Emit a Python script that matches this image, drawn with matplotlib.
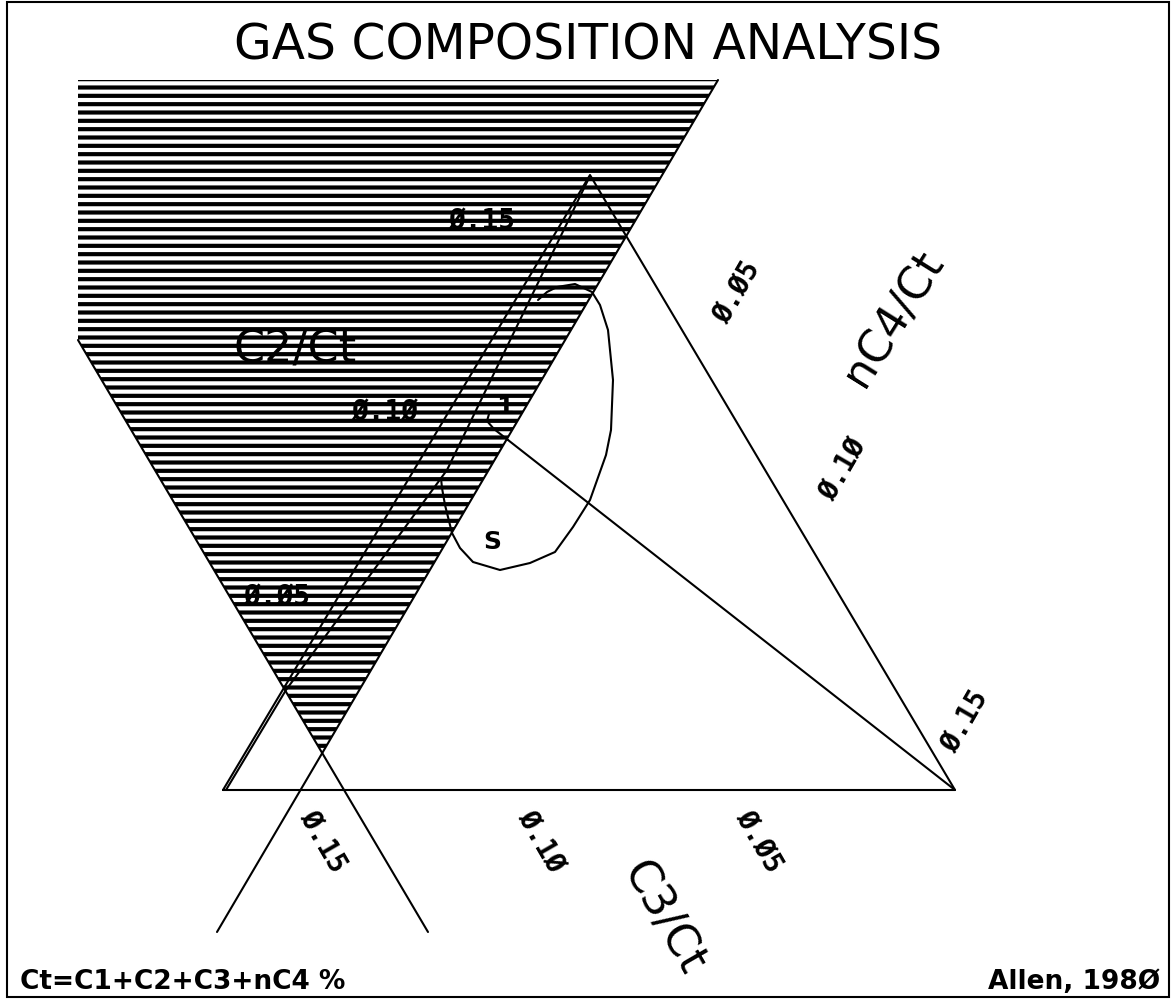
import matplotlib
matplotlib.use("Agg")
import matplotlib.pyplot as plt
from matplotlib.patches import Polygon, Rectangle

# ---------------- data (chart coordinates, y grows downward) ----------------
title = "GAS COMPOSITION ANALYSIS"

# hatched C2/Ct field
hatch_x = [78, 718, 322, 78]
hatch_y = [80, 80, 753, 340]

# crossing boundary lines of the C2/Ct field
vline_a_x = [718, 217]
vline_a_y = [80, 932]
vline_b_x = [78, 428]
vline_b_y = [340, 932]

# main triangle
tri_x = [223, 955, 590, 223]
tri_y = [790, 790, 175, 790]

# second boundary line
l2_x = [226, 286, 447, 588]
l2_y = [790, 690, 470, 180]

# closed field "S"
s_x = [538, 547, 557, 575, 592, 600, 608, 613, 611, 606, 590, 573, 555, 530,
       500, 473, 460, 452, 445, 442, 441]
s_y = [300, 292, 287, 284, 292, 305, 330, 380, 430, 455, 500, 527, 552, 563,
       570, 562, 548, 533, 505, 488, 478]

# small field "1" boundary and line to right vertex
arc_x = [489, 487, 494, 508]
arc_y = [414, 421, 429, 440]
ray_x = [508, 955]
ray_y = [440, 790]

# tick labels
c2_ticks = ["Ø.15", "Ø.1Ø", "Ø.Ø5"]
c2_tick_x = [482, 385, 277]
c2_tick_y = [222, 413, 598]

nc4_ticks = ["Ø.Ø5", "Ø.1Ø", "Ø.15"]
nc4_tick_x = [737, 843, 965]
nc4_tick_y = [293, 470, 722]

c3_ticks = ["Ø.15", "Ø.1Ø", "Ø.Ø5"]
c3_tick_x = [322, 540, 758]
c3_tick_y = [842, 842, 842]

axis_names = ["C2/Ct", "nC4/Ct", "C3/Ct"]
axis_name_x = [295, 894, 663]
axis_name_y = [350, 318, 918]
axis_name_rot = [0, 58, -60]

field_labels = ["S", "1"]
field_x = [492, 505]
field_y = [542, 407]

note_left = "Ct=C1+C2+C3+nC4 %"
note_right = "Allen, 198Ø"

# ---------------- drawing ----------------
plt.rcParams["hatch.linewidth"] = 3.0
fig = plt.figure(figsize=(11.74, 9.99), dpi=100)
ax = fig.add_axes([0, 0, 1, 1])
ax.set_xlim(0, 1174)
ax.set_ylim(999, 0)
ax.axis("off")

# frame
ax.add_patch(Rectangle((7, 2), 1162, 995, fill=False, lw=1.5, ec="black"))

ax.text(588, 45, title, ha="center", va="center", fontsize=35,
        family="DejaVu Sans", color="black")

ax.add_patch(Polygon(list(zip(hatch_x, hatch_y)), closed=True, facecolor="none",
                     edgecolor="black", lw=0, hatch="--"))

lk = dict(color="black", lw=1.5, solid_capstyle="round")
ax.plot(vline_a_x, vline_a_y, **lk)
ax.plot(vline_b_x, vline_b_y, **lk)
ax.plot(tri_x, tri_y, **lk)
ax.plot(l2_x, l2_y, **lk)
ax.plot(s_x, s_y, **lk)
ax.plot(arc_x, arc_y, **lk)
ax.plot(ray_x, ray_y, **lk)

tk = dict(family="DejaVu Sans Mono", fontweight="bold", fontsize=20,
          ha="center", va="center", color="black")
for t, x, y in zip(c2_ticks, c2_tick_x, c2_tick_y):
    ax.text(x, y, t, rotation=0, **tk)
for t, x, y in zip(nc4_ticks, nc4_tick_x, nc4_tick_y):
    ax.text(x, y, t, rotation=60, rotation_mode="anchor", **tk)
for t, x, y in zip(c3_ticks, c3_tick_x, c3_tick_y):
    ax.text(x, y, t, rotation=-60, rotation_mode="anchor", **tk)

for t, x, y, r in zip(axis_names, axis_name_x, axis_name_y, axis_name_rot):
    ax.text(x, y, t, rotation=r, rotation_mode="anchor", ha="center", va="center",
            fontsize=32, family="DejaVu Sans", color="black")

for t, x, y in zip(field_labels, field_x, field_y):
    ax.text(x, y, t, ha="center", va="center", fontsize=18,
            family="DejaVu Sans", fontweight="bold", color="black")

ax.text(20, 982, note_left, ha="left", va="center", fontsize=19,
        family="DejaVu Sans", fontweight="bold", color="black")
ax.text(1160, 982, note_right, ha="right", va="center", fontsize=19,
        family="DejaVu Sans", fontweight="bold", color="black")

fig.savefig("out.png", dpi=100)
